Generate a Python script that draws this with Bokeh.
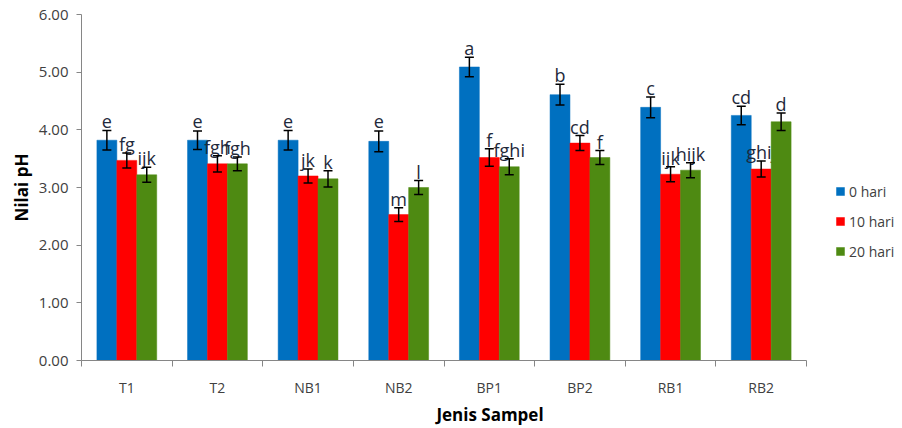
from bokeh.plotting import figure
from bokeh.models import (ColumnDataSource, Range1d, FixedTicker, Whisker, TeeHead,
                          Legend, LegendItem, NumeralTickFormatter)
from bokeh.core.properties import value
from bokeh.embed import file_html
from bokeh.resources import INLINE

categories = ["T1", "T2", "NB1", "NB2", "BP1", "BP2", "RB1", "RB2"]
series_names = ["0 hari", "10 hari", "20 hari"]
colors = ["#0070C0", "#FF0000", "#4E8A12"]

ph_0 = [3.82, 3.82, 3.82, 3.80, 5.09, 4.61, 4.39, 4.25]
ph_10 = [3.47, 3.41, 3.20, 2.53, 3.52, 3.77, 3.23, 3.32]
ph_20 = [3.22, 3.41, 3.15, 3.00, 3.36, 3.52, 3.30, 4.14]

err_0 = [0.17, 0.16, 0.17, 0.18, 0.17, 0.18, 0.18, 0.16]
err_10 = [0.13, 0.14, 0.12, 0.12, 0.15, 0.13, 0.13, 0.14]
err_20 = [0.13, 0.12, 0.14, 0.12, 0.14, 0.12, 0.13, 0.15]

letters_0 = ["e", "e", "e", "e", "a", "b", "c", "cd"]
letters_10 = ["fg", "fgh", "jk", "m", "f", "cd", "ijk", "ghij"]
letters_20 = ["ijk", "fgh", "k", "l", "fghi", "f", "hijk", "d"]

y_ticks = [0, 1, 2, 3, 4, 5, 6]

FONT = "Open Sans"

# layout: plot area (axes) spans 725 px for the 8 categories; the frame is
# extended to the right so the legend can live inside it.
W, H = 900, 428
LEFT, RIGHT_AXIS_END, TOP, BOTTOM = 81, 806, 14, 62
n = len(categories)
x_end = n * (W - 2 - LEFT) / (RIGHT_AXIS_END - LEFT)

p = figure(width=W, height=H, output_backend="svg", toolbar_location=None,
           x_range=Range1d(0, x_end), y_range=Range1d(0, 6),
           min_border_left=LEFT, min_border_right=2, min_border_top=TOP, min_border_bottom=BOTTOM)
p.outline_line_color = None
p.xgrid.visible = False
p.ygrid.visible = False

bar_w = 0.22
offsets = [-bar_w, 0.0, bar_w]
values = [ph_0, ph_10, ph_20]
errs = [err_0, err_10, err_20]
letters = [letters_0, letters_10, letters_20]

renderers = []
for k in range(3):
    xs = [i + 0.5 + offsets[k] for i in range(n)]
    src = ColumnDataSource(dict(
        x=xs, top=values[k],
        upper=[v + e for v, e in zip(values[k], errs[k])],
        lower=[v - e for v, e in zip(values[k], errs[k])],
        lab=letters[k]))
    r = p.vbar(x="x", top="top", width=bar_w, bottom=0, source=src,
               fill_color=colors[k], line_color=colors[k], line_width=0.5)
    renderers.append(r)
    w = Whisker(base="x", upper="upper", lower="lower", source=src, level="overlay",
                line_color="black", line_width=1.5,
                upper_head=TeeHead(size=9, line_color="black", line_width=1.5),
                lower_head=TeeHead(size=9, line_color="black", line_width=1.5))
    p.add_layout(w)
    p.text(x="x", y="upper", text="lab", source=src, text_align="center",
           text_baseline="alphabetic", y_offset=-9, text_font=value(FONT),
           text_font_size="18px", text_color="#1F2A3C")

# Axes
p.yaxis.ticker = FixedTicker(ticks=y_ticks)
p.yaxis.formatter = NumeralTickFormatter(format="0.00")
p.yaxis.axis_line_color = "#868686"
p.yaxis.major_tick_line_color = "#868686"
p.yaxis.major_tick_out = 5
p.yaxis.major_tick_in = 0
p.yaxis.minor_tick_line_color = None
p.yaxis.major_label_text_font = FONT
p.yaxis.major_label_text_font_size = "15px"
p.yaxis.major_label_text_color = "#404040"
p.yaxis.major_label_standoff = 8
p.yaxis.axis_label = "Nilai pH"
p.yaxis.axis_label_text_font = FONT
p.yaxis.axis_label_text_font_style = "bold"
p.yaxis.axis_label_text_font_size = "17px"
p.yaxis.axis_label_text_color = "#000000"
p.yaxis.axis_label_standoff = 3

centers = [i + 0.5 for i in range(n)]
bounds = list(range(n + 1))
p.xaxis.bounds = (0, n)
p.xaxis.ticker = FixedTicker(ticks=centers, minor_ticks=bounds)
p.xaxis.major_label_overrides = {c: lab for c, lab in zip(centers, categories)}
p.xaxis.axis_line_color = "#868686"
p.xaxis.major_tick_line_color = None
p.xaxis.major_tick_out = 6
p.xaxis.minor_tick_line_color = "#868686"
p.xaxis.minor_tick_out = 6
p.xaxis.minor_tick_in = 0
p.xaxis.major_label_text_font = FONT
p.xaxis.major_label_text_font_size = "14px"
p.xaxis.major_label_text_color = "#404040"
p.xaxis.major_label_standoff = 11
p.xaxis.axis_label = "Jenis Sampel"
p.xaxis.axis_label_text_font = FONT
p.xaxis.axis_label_text_font_style = "bold"
p.xaxis.axis_label_text_font_size = "17px"
p.xaxis.axis_label_text_color = "#000000"
p.xaxis.axis_label_standoff = 3

legend = Legend(items=[LegendItem(label=lab, renderers=[r]) for lab, r in zip(series_names, renderers)],
                location=(754, 99), orientation="vertical",
                glyph_width=10, glyph_height=10, label_height=20, spacing=10,
                label_standoff=4, padding=0, margin=0,
                border_line_color=None, background_fill_alpha=0,
                label_text_font=FONT, label_text_font_size="14px",
                label_text_color="#404040")
p.add_layout(legend)

open("out.html", "w").write(file_html(p, INLINE))
